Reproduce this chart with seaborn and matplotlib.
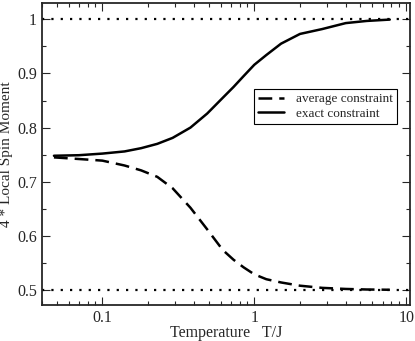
import numpy as np
import pandas as pd
import matplotlib
matplotlib.use("Agg")
import matplotlib.pyplot as plt
import seaborn as sns
from matplotlib.ticker import LogLocator, MultipleLocator, FixedLocator, FixedFormatter

# values
temp = [0.048, 0.07, 0.1, 0.14, 0.18, 0.23, 0.29, 0.38, 0.49, 0.62, 0.73, 0.85,
        1.0, 1.2, 1.5, 2.0, 2.8, 4.0, 5.5, 7.8]
exact = [0.748, 0.749, 0.752, 0.756, 0.762, 0.770, 0.781, 0.800, 0.826, 0.855, 0.875, 0.895,
         0.916, 0.934, 0.955, 0.973, 0.982, 0.993, 0.997, 0.9995]
average = [0.745, 0.742, 0.739, 0.730, 0.721, 0.709, 0.688, 0.652, 0.612, 0.574, 0.556, 0.542,
           0.529, 0.520, 0.514, 0.508, 0.504, 0.502, 0.501, 0.5005]
limits = [1.0, 0.5]

sns.set_style("ticks")
plt.rcParams['font.family'] = ['Liberation Serif', 'DejaVu Serif']

df = pd.DataFrame({
    'T': temp * 2,
    'm': average + exact,
    'kind': ['average constraint'] * len(temp) + ['exact constraint'] * len(temp),
})

fig = plt.figure(figsize=(4.15, 3.41), dpi=100)
ax = fig.add_axes([0.101, 0.105, 0.887, 0.886])

sns.lineplot(data=df, x='T', y='m', style='kind', color='black', linewidth=1.8,
             dashes={'average constraint': (5.5, 2.8), 'exact constraint': ''}, ax=ax)
for v in limits:
    ax.axhline(v, color='black', linestyle=(0, (1, 3.2)), linewidth=1.6)

ax.set_xscale('log')
ax.set_xlim(0.04, 10.6)
ax.set_ylim(0.472, 1.03)
ax.xaxis.set_major_locator(FixedLocator([0.1, 1, 10]))
ax.xaxis.set_major_formatter(FixedFormatter(['0.1', '1', '10']))
ax.xaxis.set_minor_locator(LogLocator(base=10, subs=np.arange(2, 10)))
ax.set_yticks([0.5, 0.6, 0.7, 0.8, 0.9, 1.0])
ax.set_yticklabels(['0.5', '0.6', '0.7', '0.8', '0.9', '1'])
ax.yaxis.set_minor_locator(MultipleLocator(0.05))
ax.tick_params(which='both', direction='in', top=True, right=True, labelsize=11.5, width=0.8)
ax.tick_params(which='major', length=6)
ax.tick_params(which='minor', length=3)
for s in ax.spines.values():
    s.set_linewidth(1.3)

ax.set_xlabel('Temperature   T/J', fontsize=11.5, labelpad=-1)
ax.set_ylabel('4 * Local Spin Moment', fontsize=11, labelpad=3)

leg = ax.legend(loc='upper left', bbox_to_anchor=(0.576, 0.715), borderaxespad=0,
                fontsize=9.5, frameon=True, fancybox=False, edgecolor='black', framealpha=1,
                handlelength=2.0, handletextpad=0.9, borderpad=0.3, labelspacing=0.15)
leg.get_frame().set_linewidth(0.8)

fig.savefig('out.png', dpi=100)
